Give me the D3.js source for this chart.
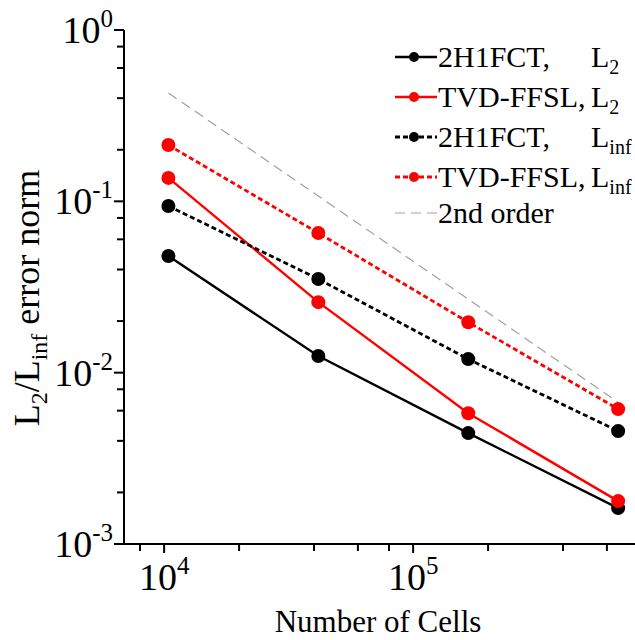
<!DOCTYPE html>
<html>
<head>
<meta charset="utf-8">
<script src="https://cdn.jsdelivr.net/npm/d3@7"></script>
<style>
  html, body { margin: 0; padding: 0; background: #fff; }
  svg { display: block; font-family: "Liberation Serif", "Times New Roman", serif; }
  text { fill: #000; }
</style>
</head>
<body>
<svg id="chart" width="635" height="640"></svg>
<script>
// Mesh sizes (number of cells) for the four refinement levels
const cells = [10404, 41616, 166464, 665856];

// Error norms per scheme
const h1fctL2   = [0.048, 0.0125, 0.00444, 0.00162];
const ffslL2    = [0.137, 0.0258, 0.0058, 0.00178];
const h1fctLinf = [0.094, 0.0352, 0.0120, 0.00456];
const ffslLinf  = [0.213, 0.0653, 0.0197, 0.00613];

// Reference slope line (second order in mesh spacing)
const refX = [10404, 665856];
const refY = [0.429, 0.00672];

const xTickMajor = [1e4, 1e5];
const xTickMinor = [8e3, 2e4, 4e4, 6e4, 8e4, 2e5, 4e5, 6e5, 8e5];
const yTickMajor = [1, 1e-1, 1e-2, 1e-3];
const yTickMinor = [2e-3, 4e-3, 6e-3, 8e-3, 2e-2, 4e-2, 6e-2, 8e-2, 2e-1, 4e-1, 6e-1, 8e-1];

const series = [
  { name: "2H1FCT,", sub: "2", values: h1fctL2,   color: "#000000", dash: null },
  { name: "TVD-FFSL,", sub: "2", values: ffslL2,  color: "#ff0000", dash: null },
  { name: "2H1FCT,", sub: "inf", values: h1fctLinf, color: "#000000", dash: "5,3" },
  { name: "TVD-FFSL,", sub: "inf", values: ffslLinf, color: "#ff0000", dash: "5,3" }
];

const svg = d3.select("#chart");
const x = d3.scaleLog().domain([6900, 1e6]).range([124, 124 + Math.log10(1e6 / 6900) * 249]);
const y = d3.scaleLog().domain([1e-3, 1]).range([544, 30]);

const axisColor = "#000";

// x axis
const gx = svg.append("g").attr("transform", "translate(0,544)");
gx.append("line").attr("x1", 123).attr("x2", 640).attr("y1", 0).attr("y2", 0)
  .attr("stroke", axisColor).attr("stroke-width", 2);
gx.selectAll("line.minor").data(xTickMinor).join("line").attr("class", "minor")
  .attr("x1", d => x(d)).attr("x2", d => x(d)).attr("y1", 0).attr("y2", 7)
  .attr("stroke", axisColor).attr("stroke-width", 2);
gx.selectAll("line.major").data(xTickMajor).join("line").attr("class", "major")
  .attr("x1", d => x(d)).attr("x2", d => x(d)).attr("y1", 0).attr("y2", 9)
  .attr("stroke", axisColor).attr("stroke-width", 2);
const xl = gx.selectAll("text").data(xTickMajor).join("text")
  .attr("x", d => x(d)).attr("y", 46).attr("text-anchor", "middle")
  .attr("font-size", 38);
xl.append("tspan").text("10");
xl.append("tspan").attr("dy", -16).attr("font-size", 25).text(d => Math.round(Math.log10(d)));

svg.append("text").attr("x", 378).attr("y", 632).attr("text-anchor", "middle")
  .attr("font-size", 31).text("Number of Cells");

// y axis
const gy = svg.append("g").attr("transform", "translate(124,0)");
gy.append("line").attr("x1", 0).attr("x2", 0).attr("y1", 30).attr("y2", 545)
  .attr("stroke", axisColor).attr("stroke-width", 2);
gy.selectAll("line.minor").data(yTickMinor).join("line").attr("class", "minor")
  .attr("x1", 0).attr("x2", -7).attr("y1", d => y(d)).attr("y2", d => y(d))
  .attr("stroke", axisColor).attr("stroke-width", 2);
gy.selectAll("line.major").data(yTickMajor).join("line").attr("class", "major")
  .attr("x1", 0).attr("x2", -10).attr("y1", d => y(d)).attr("y2", d => y(d))
  .attr("stroke", axisColor).attr("stroke-width", 2);
const yl = gy.selectAll("text").data(yTickMajor).join("text")
  .attr("x", -11).attr("y", d => y(d) + 13).attr("text-anchor", "end")
  .attr("font-size", 38);
yl.append("tspan").text("10");
yl.append("tspan").attr("dy", -16).attr("font-size", 25).text(d => Math.round(Math.log10(d)));

const yt = svg.append("text").attr("transform", "translate(39,298) rotate(-90)")
  .attr("text-anchor", "middle").attr("font-size", 36).attr("fill", "#000");
yt.append("tspan").text("L");
yt.append("tspan").attr("font-size", 24).attr("dy", 8).text("2");
yt.append("tspan").attr("dy", -8).text("/L");
yt.append("tspan").attr("font-size", 24).attr("dy", 8).text("inf");
yt.append("tspan").attr("dy", -8).text(" error norm");

// reference line
svg.append("path")
  .attr("d", d3.line().x(d => x(d[0])).y(d => y(d[1]))(refX.map((v, i) => [v, refY[i]])))
  .attr("fill", "none").attr("stroke", "#a0a0a0").attr("stroke-width", 1.2)
  .attr("stroke-dasharray", "10,6");

// series lines and markers
const line = d3.line().x((d, i) => x(cells[i])).y(d => y(d));
series.forEach(s => {
  svg.append("path").attr("d", line(s.values)).attr("fill", "none")
    .attr("stroke", s.color).attr("stroke-width", s.dash ? 2.8 : 2.4)
    .attr("stroke-dasharray", s.dash);
});
series.forEach(s => {
  svg.selectAll(null).data(s.values).join("circle")
    .attr("cx", (d, i) => x(cells[i])).attr("cy", d => y(d)).attr("r", 7)
    .attr("fill", s.color);
});

// legend
const legY = [57, 97, 137, 177];
series.forEach((s, i) => {
  const g = svg.append("g").attr("transform", `translate(0,${legY[i]})`);
  g.append("line").attr("x1", 395).attr("x2", 437).attr("y1", 0).attr("y2", 0)
    .attr("stroke", s.color).attr("stroke-width", s.dash ? 2.8 : 2.4)
    .attr("stroke-dasharray", s.dash);
  g.append("circle").attr("cx", 414).attr("cy", 0).attr("r", 5).attr("fill", s.color);
  const t = g.append("text").attr("y", 10).attr("font-size", 30);
  t.append("tspan").attr("x", 438).text(s.name);
  t.append("tspan").attr("x", 591).text("L");
  t.append("tspan").attr("dy", 7).attr("font-size", 20).text(s.sub);
});
const gr = svg.append("g").attr("transform", "translate(0,213)");
gr.append("line").attr("x1", 395).attr("x2", 437).attr("y1", 0).attr("y2", 0)
  .attr("stroke", "#a0a0a0").attr("stroke-width", 1.2).attr("stroke-dasharray", "10,6");
gr.append("text").attr("x", 438).attr("y", 10).attr("font-size", 30).text("2nd order");
</script>
</body>
</html>
